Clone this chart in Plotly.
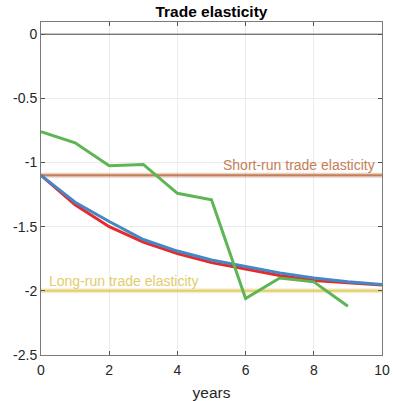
import plotly.graph_objects as go

# Horizon in years
years = [0, 1, 2, 3, 4, 5, 6, 7, 8, 9, 10]

# Elasticity paths
model_a = [-1.10, -1.31, -1.46, -1.60, -1.69, -1.76, -1.81, -1.86, -1.90, -1.93, -1.95]
model_b = [-1.10, -1.33, -1.50, -1.62, -1.71, -1.78, -1.83, -1.88, -1.92, -1.94, -1.955]
estimates_years = [0, 1, 2, 3, 4, 5, 6, 7, 8, 9]
estimates = [-0.76, -0.846, -1.025, -1.015, -1.24, -1.29, -2.06, -1.90, -1.93, -2.12]

short_run = -1.1
long_run = -2.0

x_ticks = [0, 2, 4, 6, 8, 10]
y_ticks = [0, -0.5, -1, -1.5, -2, -2.5]
y_tick_text = ["0", "-0.5", "-1", "-1.5", "-2", "-2.5"]

SR_COLOR = "#C47E58"
LR_COLOR = "#E2CC6C"
FONT = "Liberation Sans, Arial"

fig = go.Figure()

# reference levels (pale halo + core)
for level, col in [(short_run, SR_COLOR), (long_run, LR_COLOR)]:
    fig.add_trace(go.Scatter(x=[0, 10], y=[level, level], mode="lines",
                             line=dict(color=col, width=5), opacity=0.35,
                             hoverinfo="skip", showlegend=False))
    fig.add_trace(go.Scatter(x=[0, 10], y=[level, level], mode="lines",
                             line=dict(color=col, width=2),
                             hoverinfo="skip", showlegend=False))

# zero line
fig.add_trace(go.Scatter(x=[0, 10], y=[0, 0], mode="lines",
                         line=dict(color="#444444", width=1),
                         hoverinfo="skip", showlegend=False))

fig.add_trace(go.Scatter(x=years, y=model_b, mode="lines",
                         line=dict(color="#E8292B", width=3), showlegend=False))
fig.add_trace(go.Scatter(x=years, y=model_a, mode="lines",
                         line=dict(color="#4287C6", width=3), showlegend=False))
fig.add_trace(go.Scatter(x=estimates_years, y=estimates, mode="lines",
                         line=dict(color="#5DB553", width=3), showlegend=False))

fig.add_annotation(x=9.84, y=short_run, xref="x", yref="y",
                   text="Short-run trade elasticity", showarrow=False,
                   xanchor="right", yanchor="bottom", yshift=0,
                   font=dict(family=FONT, size=14, color=SR_COLOR))
fig.add_annotation(x=0.17, y=long_run, xref="x", yref="y",
                   text="Long-run trade elasticity", showarrow=False,
                   xanchor="left", yanchor="bottom", yshift=0,
                   font=dict(family=FONT, size=14, color=LR_COLOR))

axis_common = dict(
    showline=True, linecolor="#7a7a7a", linewidth=1, mirror="ticks",
    ticks="inside", ticklen=4, tickcolor="#555555",
    showgrid=True, gridcolor="#ebebeb", gridwidth=1, zeroline=False,
    automargin=False,
    tickfont=dict(family=FONT, size=14, color="#262626"),
)

fig.update_layout(
    width=393, height=401,
    margin=dict(l=41, r=11, t=22, b=46),
    paper_bgcolor="white", plot_bgcolor="white",
    title=dict(text="<b>Trade elasticity</b>", x=0.538, xanchor="center",
               y=0.971, yanchor="middle",
               font=dict(family=FONT, size=15.5, color="black")),
    xaxis=dict(range=[0, 10], tickvals=x_ticks, ticklabelstandoff=2,
               title=dict(text="years", standoff=11,
                          font=dict(family=FONT, size=15.5, color="#262626")),
               **axis_common),
    yaxis=dict(range=[-2.5, 0.095], tickvals=y_ticks, ticktext=y_tick_text,
               **axis_common),
)

fig.write_html("out.html")
